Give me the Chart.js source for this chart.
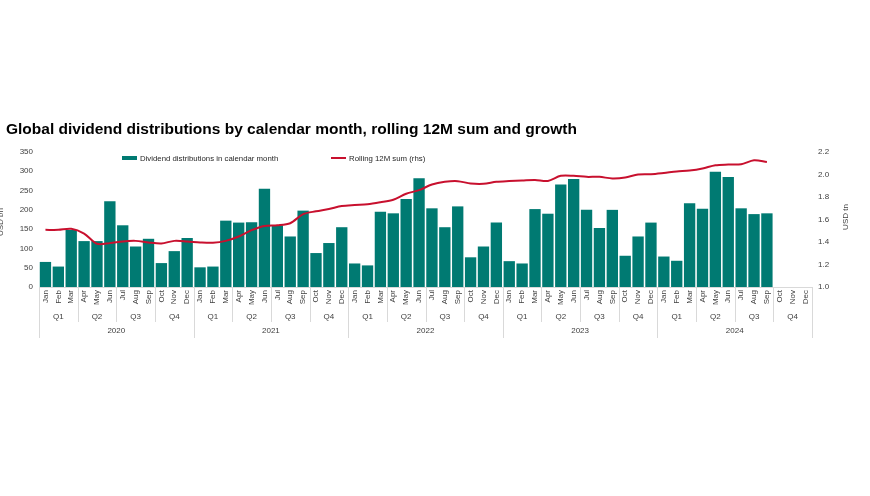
<!DOCTYPE html>
<html>
<head>
<meta charset="utf-8">
<script src="https://cdn.jsdelivr.net/npm/chart.js@4"></script>
<style>
  html, body { margin:0; padding:0; background:#fff; }
  #wrap { position:relative; width:870px; height:496px; font-family:"Liberation Sans", Arial, sans-serif; }
  #chart-title { position:absolute; left:6px; top:121px; font-size:15.5px; line-height:15px; font-weight:bold; color:#000; white-space:nowrap; }
  .legend-item { position:absolute; top:154px; font-size:7.8px; line-height:10px; color:#262626; white-space:nowrap; }
  .legend-key { display:inline-block; width:15px; vertical-align:middle; margin-right:3px; position:relative; top:-1px; }
  canvas { position:absolute; left:0; top:0; }
</style>
</head>
<body>
<div id="wrap">
  <canvas id="dividend-chart" width="870" height="496"></canvas>
  <div id="chart-title">Global dividend distributions by calendar month, rolling 12M sum and growth</div>
  <div class="legend-item" style="left:122px"><span class="legend-key" style="height:4px;background:#007a72"></span>Dividend distributions in calendar month</div>
  <div class="legend-item" style="left:331px"><span class="legend-key" style="height:2px;background:#c8102e"></span>Rolling 12M sum (rhs)</div>
</div>
<script>
/* ── Data ── */
const monthNames = ['Jan','Feb','Mar','Apr','May','Jun','Jul','Aug','Sep','Oct','Nov','Dec'];
const quarterNames = ['Q1','Q2','Q3','Q4'];
const years = ['2020','2021','2022','2023','2024'];

// USD bn, distributions paid in each calendar month
const distributions = [
  65, 53, 148, 119, 119, 222, 160, 105, 125, 62, 93, 127,
  51, 53, 172, 167, 168, 255, 160, 131, 198, 88, 114, 155,
  61, 56, 195, 191, 228, 282, 204, 155, 209, 77, 105, 167,
  67, 61, 202, 190, 266, 280, 200, 153, 200, 81, 131, 167,
  79, 68, 217, 203, 299, 285, 204, 189, 191, null, null, null
];

// USD tn, rolling 12 month sum
const rolling12m = [
  1.508, 1.508, 1.517, 1.475, 1.384, 1.390, 1.405, 1.410, 1.396, 1.387, 1.410, 1.405,
  1.396, 1.393, 1.410, 1.449, 1.505, 1.543, 1.549, 1.567, 1.647, 1.673, 1.693, 1.720,
  1.729, 1.735, 1.753, 1.776, 1.829, 1.861, 1.911, 1.935, 1.941, 1.920, 1.917, 1.935,
  1.942, 1.947, 1.952, 1.943, 1.988, 1.988, 1.979, 1.979, 1.965, 1.973, 2.000, 2.003,
  2.014, 2.027, 2.035, 2.053, 2.082, 2.088, 2.091, 2.126, 2.111, null, null, null
];

const labels = years.flatMap(() => monthNames);

const TEXT  = '#404040';
const SEP   = '#d9d9d9';
const FONT  = '"Liberation Sans", Arial, sans-serif';

/* ── Quarter / year rows under the month ticks ── */
const periodRows = {
  id: 'periodRows',
  afterDraw(chart) {
    const ctx = chart.ctx;
    const x = chart.scales.x;
    const half = (x.getPixelForValue(1) - x.getPixelForValue(0)) / 2;
    const top = x.top + 1;
    ctx.save();
    ctx.strokeStyle = SEP;
    ctx.lineWidth = 1;
    for (let q = 0; q <= years.length * 4; q++) {
      const px = Math.round(x.getPixelForValue(Math.min(q * 3, labels.length - 1)) + (q * 3 >= labels.length ? half : -half)) + 0.5;
      const bottom = q % 4 === 0 ? 338 : 322;
      ctx.beginPath();
      ctx.moveTo(px, top);
      ctx.lineTo(px, bottom);
      ctx.stroke();
    }
    ctx.fillStyle = TEXT;
    ctx.font = '8px ' + FONT;
    ctx.textAlign = 'center';
    ctx.textBaseline = 'middle';
    for (let q = 0; q < years.length * 4; q++) {
      ctx.fillText(quarterNames[q % 4], x.getPixelForValue(q * 3 + 1), 317);
    }
    years.forEach((yr, i) => {
      const mid = (x.getPixelForValue(i * 12 + 5) + x.getPixelForValue(i * 12 + 6)) / 2;
      ctx.fillText(yr, mid, 331);
    });

    // axis titles
    ctx.save();
    ctx.translate(1, 222);
    ctx.rotate(-Math.PI / 2);
    ctx.fillText('USD bn', 0, 0);
    ctx.restore();
    ctx.save();
    ctx.translate(846, 217);
    ctx.rotate(-Math.PI / 2);
    ctx.fillText('USD tn', 0, 0);
    ctx.restore();
    ctx.restore();
  }
};

/* ── Chart ── */
new Chart(document.getElementById('dividend-chart'), {
  data: {
    labels,
    datasets: [
      {
        type: 'line',
        label: 'Rolling 12M sum (rhs)',
        data: rolling12m,
        yAxisID: 'y1',
        borderColor: '#c8102e',
        borderWidth: 2,
        pointRadius: 0,
        tension: 0.3,
        order: 1
      },
      {
        type: 'bar',
        label: 'Dividend distributions in calendar month',
        data: distributions,
        yAxisID: 'y',
        backgroundColor: '#007a72',
        borderWidth: 0,
        barPercentage: 1,
        categoryPercentage: 0.88,
        order: 2
      }
    ]
  },
  options: {
    responsive: false,
    animation: false,
    devicePixelRatio: 1,
    layout: { padding: { top: 152, bottom: 173, left: 0, right: 0 } },
    plugins: { legend: { display: false }, tooltip: { enabled: false } },
    scales: {
      x: {
        grid: { display: false, drawTicks: false },
        border: { color: SEP },
        ticks: { color: TEXT, font: { size: 8, family: FONT }, minRotation: 90, maxRotation: 90, autoSkip: false, padding: 3 },
        afterFit: s => { s.height = 36; }
      },
      y: {
        position: 'left',
        min: 0, max: 350,
        grid: { display: false, drawTicks: false },
        border: { display: false },
        ticks: { stepSize: 50, color: TEXT, font: { size: 8, family: FONT }, padding: 6 },
        afterFit: s => { s.width = 39; }
      },
      y1: {
        position: 'right',
        min: 1.0, max: 2.2,
        grid: { display: false, drawTicks: false },
        border: { display: false },
        ticks: { stepSize: 0.2, color: TEXT, font: { size: 8, family: FONT }, padding: 6, callback: v => v.toFixed(1) },
        afterFit: s => { s.width = 58; }
      }
    }
  },
  plugins: [periodRows]
});
</script>
</body>
</html>
